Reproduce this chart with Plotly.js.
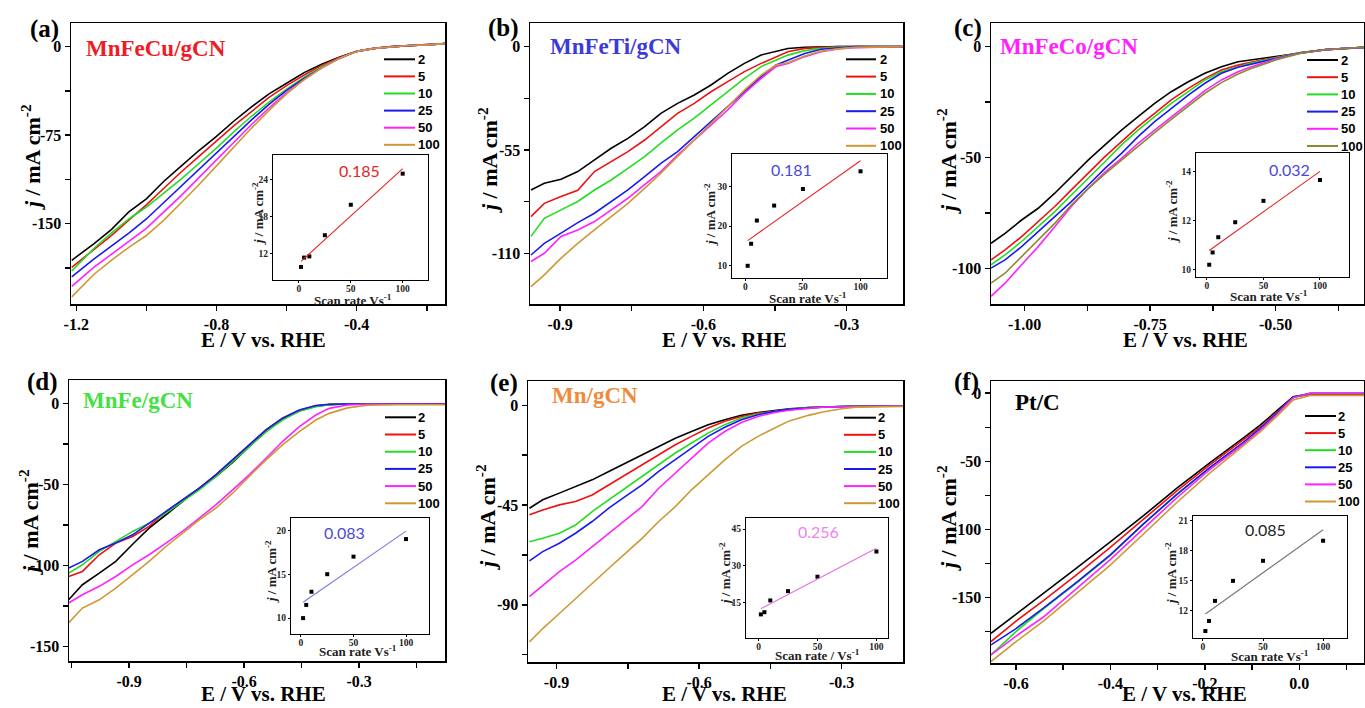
<!DOCTYPE html>
<html><head><meta charset="utf-8">
<script src="https://cdn.plot.ly/plotly-3.0.1.min.js"></script>
<style>html,body{margin:0;padding:0;background:#fff;}#chart{width:1365px;height:708px;}</style>
</head><body><div id="chart"></div>
<script>
// ---------------- DATA ----------------
const scanRates = ['2','5','10','25','50','100'];
const insetRate = [2,5,10,25,50,100];
const fitRate = [2,100];

// (a) MnFeCu/gCN
const E_a = [-1.213,-1.15,-1.1,-1.05,-1.0,-0.95,-0.9,-0.85,-0.8,-0.75,-0.7,-0.65,-0.6,-0.55,-0.5,-0.45,-0.4,-0.35,-0.3,-0.25,-0.2,-0.148];
const ja_2   = [-181,-167,-155,-140,-129,-114,-101,-88,-76,-63,-51,-40,-31,-22,-15,-9,-4,-1.5,0,1,1.5,2.5];
const ja_5   = [-187,-172,-160,-147,-134,-120,-106,-93,-80,-67,-55,-43,-33,-24,-16,-9.5,-4,-1.5,0,1,1.5,2.5];
const ja_10  = [-190,-171,-158,-146,-136,-124,-112,-99,-86,-72,-59,-47,-36,-26,-17,-10,-4,-1.5,0,1,1.5,2.5];
const ja_25  = [-195,-180,-169,-158,-146,-132,-118,-104,-90,-76,-62,-49,-37,-27,-18,-10,-4,-1.5,0,1,1.5,2.5];
const ja_50  = [-203,-187,-176,-165,-154,-140,-126,-111,-96,-81,-66,-52,-39,-28,-18,-10,-4,-1.5,0,1,1.5,2.5];
const ja_100 = [-212,-193,-181,-170,-160,-147,-132,-117,-101,-85,-69,-54,-40,-28,-18,-10,-4,-1.5,0,1,1.5,2.5];
const ins_a = [9.9,11.4,11.6,15.0,19.9,24.9];
const fit_a = [10.8,25.7];

// (b) MnFeTi/gCN
const E_b = [-0.961,-0.933,-0.898,-0.863,-0.828,-0.793,-0.758,-0.723,-0.689,-0.654,-0.619,-0.584,-0.549,-0.514,-0.479,-0.448,-0.423,-0.388,-0.353,-0.318,-0.283,-0.183];
const jb_2   = [-76.3,-72.7,-70.6,-66.5,-60.3,-54.1,-48.8,-42.6,-35.5,-30.2,-25.7,-20.4,-14.2,-8.9,-4.4,-2.7,-1.0,-0.3,0,0,0,0];
const jb_5   = [-90.5,-83.4,-79.8,-76.5,-66.5,-61,-55.9,-49.7,-42.6,-35.5,-30.2,-24,-18.6,-13.3,-8.9,-5.3,-2.7,-0.9,-0.4,0,0,0];
const jb_10  = [-101,-91.4,-86.9,-82.4,-76.3,-71,-64.8,-58.5,-51.4,-44.3,-38.1,-31,-24,-16.9,-10.6,-7.1,-4.5,-2.1,-0.9,-0.4,0,0];
const jb_25  = [-110.9,-104.7,-99.3,-93.7,-88.7,-82.5,-76.3,-69.2,-62.1,-55.9,-47.9,-39.9,-31.9,-24,-16,-9.8,-7.1,-3.6,-1.4,-0.5,0,0];
const jb_50  = [-114.4,-110,-101,-97.6,-93.1,-87.1,-80.7,-73.4,-66.5,-57.7,-49.7,-41.7,-33.7,-24.8,-16.9,-10.6,-8.9,-5.3,-2.7,-1.2,-0.5,0];
const jb_100 = [-127.7,-121.5,-112.6,-104.7,-97.6,-90.5,-83.4,-75.4,-67.4,-58.5,-49.7,-40.8,-31.9,-23.1,-15.1,-9.8,-8.6,-5,-2.3,-1.1,-0.4,0];
const ins_b = [9.9,15.5,21.4,25.2,29.4,33.9];
const fit_b = [16.3,36.6];

// (c) MnFeCo/gCN
const E_c = [-1.067,-1.039,-1.006,-0.973,-0.940,-0.907,-0.873,-0.840,-0.807,-0.774,-0.741,-0.708,-0.674,-0.641,-0.608,-0.575,-0.55,-0.5,-0.45,-0.4,-0.35,-0.324];
const jc_2   = [-88.7,-84.2,-78.2,-72.9,-66.1,-58.6,-51.1,-44.3,-37.6,-31.6,-25.6,-20.3,-15.8,-12,-9,-6.8,-6,-4.5,-2.6,-1.3,-0.6,-0.3];
const jc_5   = [-96.2,-91.7,-85.7,-78.9,-72.1,-64.6,-57.1,-49.6,-42.8,-36.1,-30.1,-24,-18.8,-14.3,-10.5,-8.3,-7,-4.8,-2.6,-1.3,-0.6,-0.3];
const jc_10  = [-98.4,-93.9,-87.9,-81.2,-74.4,-66.9,-59.4,-51.9,-44.3,-37.6,-31.6,-25.6,-20.3,-15,-11.3,-9,-7.5,-5,-2.6,-1.3,-0.6,-0.3];
const jc_25  = [-99.9,-96.2,-90.2,-83.4,-76.7,-69.9,-62.4,-54.9,-48.1,-40.6,-33.8,-27.8,-21.8,-16.5,-12,-9.3,-8,-5.2,-2.7,-1.3,-0.6,-0.3];
const jc_50  = [-112.7,-106.7,-98.4,-90.2,-81.2,-72.1,-63.9,-56.6,-50.4,-43.6,-37.6,-31.6,-25.6,-19.8,-15,-11.3,-9.2,-5.6,-2.8,-1.3,-0.6,-0.3];
const jc_100 = [-106.7,-102.2,-94.7,-87.2,-79.7,-71.4,-63.9,-57.4,-51.1,-44.8,-38.8,-32.8,-26.8,-21,-16.2,-12.3,-10,-6,-2.9,-1.4,-0.6,-0.3];
const ins_c = [10.2,10.7,11.32,11.93,12.8,13.65];
const fit_c = [10.78,14.0];

// (d) MnFe/gCN
const E_d = [-1.058,-1.022,-0.978,-0.935,-0.891,-0.848,-0.804,-0.761,-0.717,-0.674,-0.630,-0.587,-0.543,-0.500,-0.456,-0.413,-0.378,-0.33,-0.28,-0.2,-0.076];
const jd_2   = [-121.3,-112,-104.8,-97.6,-87,-77.1,-68.8,-60.6,-52.4,-45.2,-36.4,-26.7,-17.5,-9.9,-4.7,-1.8,-0.8,-0.4,-0.3,-0.3,-0.3];
const jd_5   = [-106.9,-103.8,-93.5,-86.3,-82.2,-76,-66.8,-59.6,-52.4,-44.2,-34.9,-25.7,-16.4,-9.2,-4.3,-1.6,-0.7,-0.4,-0.3,-0.3,-0.3];
const jd_10  = [-104.8,-99.7,-91.4,-85.3,-79.1,-74,-67.8,-60.6,-53.4,-45.2,-36,-26.7,-17.5,-10.3,-4.7,-2.1,-0.8,-0.4,-0.3,-0.3,-0.3];
const jd_25  = [-101.7,-97.6,-90.4,-86.3,-81.2,-74,-66.8,-59.6,-52.4,-44.2,-34.9,-25.7,-16.4,-9.2,-4.1,-1.4,-0.6,-0.4,-0.3,-0.3,-0.3];
const jd_50  = [-123.3,-118.2,-113,-106.9,-99.7,-93.5,-86.3,-79.1,-70.9,-62.7,-53.4,-44.2,-33.9,-23.6,-14.4,-7.2,-3.1,-1,-0.6,-0.6,-0.6];
const jd_100 = [-135.6,-126.4,-121.3,-114.1,-105.8,-97.6,-88.4,-80.1,-71.9,-64.7,-55.5,-45.2,-34.9,-25.7,-17.5,-10.3,-6.2,-2.8,-1.2,-0.9,-0.9];
const ins_d = [10,11.5,13,15,17,19];
const fit_d = [11.8,19.9];

// (e) Mn/gCN
const E_e = [-0.957,-0.929,-0.894,-0.860,-0.825,-0.790,-0.755,-0.720,-0.685,-0.650,-0.616,-0.581,-0.546,-0.511,-0.476,-0.441,-0.41,-0.37,-0.34,-0.30,-0.27,-0.171];
const je_2   = [-46.4,-42.6,-39.6,-36.6,-33.6,-29.8,-26.1,-22.3,-18.5,-14.8,-11.8,-8.7,-6.5,-4.5,-3.2,-2.3,-1.6,-1.0,-0.7,-0.5,-0.4,-0.3];
const je_5   = [-49.4,-47.2,-44.9,-43.4,-40.4,-35.9,-31.3,-26.8,-22.3,-17.8,-14,-10.2,-7.2,-5,-3.5,-2.6,-1.8,-1.0,-0.7,-0.5,-0.4,-0.3];
const je_10  = [-61.5,-60,-57.7,-54,-47.9,-42.6,-37.4,-32.1,-26.8,-21.5,-17,-12.5,-8.7,-5.7,-3.9,-2.7,-1.8,-1.0,-0.7,-0.5,-0.4,-0.3];
const je_25  = [-70.2,-66,-62.2,-57.7,-52.4,-46.4,-41.1,-35.9,-29.8,-24.6,-19.3,-14,-9.9,-6.5,-4.2,-2.7,-1.8,-1.0,-0.7,-0.5,-0.4,-0.3];
const je_50  = [-86.3,-81.1,-75,-69.8,-63.7,-57.7,-51.7,-45.7,-37.4,-30.6,-23.8,-17,-11.8,-7.7,-5,-3.2,-2.2,-1.3,-0.8,-0.6,-0.5,-0.3];
const je_100 = [-106.7,-100.7,-93.9,-87.1,-80.3,-73.5,-66.8,-60,-52.4,-45.7,-38.1,-31.3,-24.6,-18.5,-14,-10.2,-7,-4.5,-3,-1.5,-0.8,-0.5];
const ins_e = [10.1,11.0,15.8,19.6,25.5,35.8];
const fit_e = [12.4,37.1];

// (f) Pt/C
const E_f = [-0.653,-0.6,-0.542,-0.472,-0.401,-0.330,-0.260,-0.189,-0.119,-0.083,-0.048,-0.013,0.023,0.137];
const jf_2   = [-176.5,-162.5,-147.5,-128.5,-109.5,-90,-70,-51,-33,-23.5,-13,-2.5,-0.7,-0.7];
const jf_5   = [-182.6,-167.5,-152.5,-133.5,-113.5,-92.5,-72,-52.5,-34.5,-25,-14.2,-3,-0.7,-0.7];
const jf_10  = [-192.4,-175.2,-158.5,-139.5,-119.5,-96,-74.5,-54.5,-36.3,-26,-15,-3.2,-0.2,-0.2];
const jf_25  = [-185,-173,-158,-139,-119,-96,-74.5,-54.5,-36.3,-26,-15,-2.7,0,0];
const jf_50  = [-192.4,-178.5,-164.5,-143.5,-122.5,-99.5,-77,-56,-37.5,-27.2,-15.8,-3.2,0,0];
const jf_100 = [-197.3,-182.6,-167.5,-147.5,-126.5,-103.5,-80.5,-58.5,-39,-28.5,-17,-4.9,-1.7,-1.7];
const ins_f = [10.0,11.0,13.0,15.0,17.0,19.0];
const fit_f = [11.7,20.1];

// text / labels
const panelLetters = ['(a)','(b)','(c)','(d)','(e)','(f)'];
const sampleNames = ['MnFeCu/gCN','MnFeTi/gCN','MnFeCo/gCN','MnFe/gCN','Mn/gCN','Pt/C'];
const slopeLabels = ['0.185','0.181','0.032','0.083','0.256','0.085'];
const xTitle = 'E / V vs. RHE';
const yTitle = '<i>j</i> / mA cm<sup>-2</sup>';
const insetXTitles = ['Scan rate Vs<sup>-1</sup>','Scan rate Vs<sup>-1</sup>','Scan rate Vs<sup>-1</sup>','Scan rate Vs<sup>-1</sup>','Scan rate / Vs<sup>-1</sup>','Scan rate Vs<sup>-1</sup>'];
const insetYTitle = '<i>j</i> / mA cm<sup>-2</sup>';

// tick values & labels (major labelled ticks, minor unlabelled ticks)
const xTickVals_a = [-1.2,-0.8,-0.4];   const xTickText_a = ['-1.2','-0.8','-0.4'];   const xMinor_a = [-1.0,-0.6,-0.2];
const yTickVals_a = [-150,-75,0];       const yTickText_a = ['-150','-75','0'];       const yMinor_a = [-187.5,-112.5,-37.5];
const xTickVals_b = [-0.9,-0.6,-0.3];   const xTickText_b = ['-0.9','-0.6','-0.3'];   const xMinor_b = [-0.75,-0.45];
const yTickVals_b = [-110,-55,0];       const yTickText_b = ['-110','-55','0'];       const yMinor_b = [-82.5,-27.5];
const xTickVals_c = [-1.0,-0.75,-0.5];  const xTickText_c = ['-1.00','-0.75','-0.50']; const xMinor_c = [-0.875,-0.625,-0.375];
const yTickVals_c = [-100,-50,0];       const yTickText_c = ['-100','-50','0'];       const yMinor_c = [-75,-25];
const xTickVals_d = [-0.9,-0.6,-0.3];   const xTickText_d = ['-0.9','-0.6','-0.3'];   const xMinor_d = [-1.05,-0.75,-0.45,-0.15];
const yTickVals_d = [-150,-100,-50,0];  const yTickText_d = ['-150','-100','-50','0']; const yMinor_d = [-125,-75,-25];
const xTickVals_e = [-0.9,-0.6,-0.3];   const xTickText_e = ['-0.9','-0.6','-0.3'];   const xMinor_e = [-0.75,-0.45];
const yTickVals_e = [-90,-45,0];        const yTickText_e = ['-90','-45','0'];        const yMinor_e = [-112.5,-67.5,-22.5];
const xTickVals_f = [-0.6,-0.4,-0.2,0]; const xTickText_f = ['-0.6','-0.4','-0.2','0.0']; const xMinor_f = [-0.5,-0.3,-0.1,0.1];
const yTickVals_f = [-150,-100,-50,0];  const yTickText_f = ['-150','-100','-50','0']; const yMinor_f = [-175,-125,-75,-25];
const insetXTicks = [0,50,100];
const insetYTicks_a = [12,18,24];
const insetYTicks_b = [10,20,30];
const insetYTicks_c = [10,12,14];
const insetYTicks_d = [10,15,20];
const insetYTicks_e = [15,30,45];
const insetYTicks_f = [12,15,18,21];

// ---------------- ASSEMBLY ----------------
const panels = [
  {E:E_a, J:[ja_2,ja_5,ja_10,ja_25,ja_50,ja_100], ins:ins_a, fit:fit_a, xtv:xTickVals_a, xtt:xTickText_a, xm:xMinor_a, ytv:yTickVals_a, ytt:yTickText_a, ym:yMinor_a, iyt:insetYTicks_a},
  {E:E_b, J:[jb_2,jb_5,jb_10,jb_25,jb_50,jb_100], ins:ins_b, fit:fit_b, xtv:xTickVals_b, xtt:xTickText_b, xm:xMinor_b, ytv:yTickVals_b, ytt:yTickText_b, ym:yMinor_b, iyt:insetYTicks_b},
  {E:E_c, J:[jc_2,jc_5,jc_10,jc_25,jc_50,jc_100], ins:ins_c, fit:fit_c, xtv:xTickVals_c, xtt:xTickText_c, xm:xMinor_c, ytv:yTickVals_c, ytt:yTickText_c, ym:yMinor_c, iyt:insetYTicks_c},
  {E:E_d, J:[jd_2,jd_5,jd_10,jd_25,jd_50,jd_100], ins:ins_d, fit:fit_d, xtv:xTickVals_d, xtt:xTickText_d, xm:xMinor_d, ytv:yTickVals_d, ytt:yTickText_d, ym:yMinor_d, iyt:insetYTicks_d},
  {E:E_e, J:[je_2,je_5,je_10,je_25,je_50,je_100], ins:ins_e, fit:fit_e, xtv:xTickVals_e, xtt:xTickText_e, xm:xMinor_e, ytv:yTickVals_e, ytt:yTickText_e, ym:yMinor_e, iyt:insetYTicks_e},
  {E:E_f, J:[jf_2,jf_5,jf_10,jf_25,jf_50,jf_100], ins:ins_f, fit:fit_f, xtv:xTickVals_f, xtt:xTickText_f, xm:xMinor_f, ytv:yTickVals_f, ytt:yTickText_f, ym:yMinor_f, iyt:insetYTicks_f}
];

// geometry (pixels) and styles; xt: [x, y, yanchor]
const W = 1365, H = 708;
const px = v => v / W;
const py = v => 1 - v / H;
const geo = [
  {box:[71,445,23,304],   xr:[-1.215,-0.148], yr:[-218,20],     inset:[273,428,155,280],     ixr:[-25,124.4], iyr:[7.8,27.9],
   letter:[44,29], name:[84,48], xt:[263,340,'middle'], yt:[31,157], ixt:[353,300], iyt:[258,214], slope:[359,170.5], leg:[384,415,416,59.3,17.1]},
  {box:[530,903,23,304],  xr:[-0.963,-0.182], yr:[-137,12.6],   inset:[732,887,154,278],     ixr:[-11.6,123], iyr:[6.8,38.3],
   letter:[503,28], name:[548,47], xt:[724,340,'middle'], yt:[488,160], ixt:[808,298], iyt:[710,215], slope:[791,169], leg:[846,876,878,59.3,17.3]},
  {box:[991,1364,23,304], xr:[-1.067,-0.324], yr:[-116.1,10.7], inset:[1196,1349,153,277],   ixr:[-9.7,125.7], iyr:[9.7,14.75],
   letter:[968,28], name:[998,47], xt:[1185,340,'middle'], yt:[947,161], ixt:[1269,296], iyt:[1172,212], slope:[1289,169], leg:[1307,1338,1339,60,17.2]},
  {box:[69,445,380,661],  xr:[-1.057,-0.076], yr:[-159.1,14.4], inset:[291,429,518,634],     ixr:[-9.5,121.9], iyr:[8.19,21.4],
   letter:[42,382], name:[81,400], xt:[263,708,'bottom'], yt:[29,522], ixt:[358,651], iyt:[271,572], slope:[344,532], leg:[385,416,416,417.3,17.2]},
  {box:[528,903,381,662], xr:[-0.96,-0.171],  yr:[-115.8,11],   inset:[746,888,518,638],     ixr:[-10.6,109.8], iyr:[0.45,49.5],
   letter:[504,383], name:[550,395], xt:[724,708,'bottom'], yt:[486,517], ixt:[817,655], iyt:[725,574], slope:[818,531], leg:[844,876,876,417.7,17.1]},
  {box:[991,1364,381,663],xr:[-0.653,0.137],  yr:[-198.3,9],    inset:[1193,1347,516,638],   ixr:[-8.3,119.9], iyr:[9.3,21.47],
   letter:[966,382], name:[1013,402], xt:[1184,708,'bottom'], yt:[947,518], ixt:[1270,656], iyt:[1171,574], slope:[1265,529], leg:[1305,1336,1336,416,17.1]}
];
const lineColors  = ['#000000','#ee1111','#22dd22','#1a1aee','#ff22ff','#cc9933'];
const lineColorsC = ['#000000','#ee1111','#22dd22','#1a1aee','#ff22ff','#8a8a30'];
const nameColors  = ['#ee1c24','#3b3bd9','#ff22ff','#44e044','#f08a3c','#000000'];
const fitColors   = ['#e8241f','#e8241f','#e8241f','#7a7ae0','#e070e0','#777777'];
const slopeColors = ['#e8241f','#4a4ad8','#4a4ad8','#4a4ad8','#ee82ee','#222222'];
const SERIF = 'Liberation Serif, Times New Roman, serif';
const SANS = 'Liberation Sans, Arial, sans-serif';

const traces = [];
const layout = {
  width: W, height: H, margin:{l:0,r:0,t:0,b:0},
  paper_bgcolor:'#ffffff', plot_bgcolor:'#ffffff', showlegend:false,
  annotations:[], shapes:[]
};

panels.forEach((p, k) => {
  const g = geo[k];
  const mi = k + 1, ii = k + 7;
  const mx = mi === 1 ? 'x' : 'x' + mi, my = mi === 1 ? 'y' : 'y' + mi;
  const ix = 'x' + ii, iy = 'y' + ii;
  const cols = k === 2 ? lineColorsC : lineColors;

  p.J.forEach((jArr, s) => {
    traces.push({type:'scatter', mode:'lines', x:p.E, y:jArr, name:scanRates[s],
      xaxis:mx, yaxis:my, line:{color:cols[s], width:1.6}, hoverinfo:'skip'});
  });
  traces.push({type:'scatter', mode:'markers', x:insetRate, y:p.ins, xaxis:ix, yaxis:iy,
    marker:{symbol:'square', size:4, color:'#000'}, hoverinfo:'skip'});
  traces.push({type:'scatter', mode:'lines', x:fitRate, y:p.fit, xaxis:ix, yaxis:iy,
    line:{color:fitColors[k], width:1.1}, hoverinfo:'skip'});

  const mainTickFont = {family:SERIF, size:16, color:'#000', weight:700};
  const minorStyle = vals => ({tickmode:'array', tickvals:vals, ticks:'outside', ticklen:5, tickwidth:1.5, tickcolor:'#000', showgrid:false});
  layout['xaxis' + (mi === 1 ? '' : mi)] = {
    domain:[px(g.box[0]), px(g.box[1])], range:g.xr, anchor:my,
    tickmode:'array', tickvals:p.xtv, ticktext:p.xtt, ticks:'outside', ticklen:5, tickwidth:1.5, tickcolor:'#000',
    minor:minorStyle(p.xm),
    showline:true, linewidth:1.5, linecolor:'#000', mirror:true, showgrid:false, zeroline:false,
    tickfont:mainTickFont
  };
  layout['yaxis' + (mi === 1 ? '' : mi)] = {
    domain:[py(g.box[3]), py(g.box[2])], range:g.yr, anchor:mx,
    tickmode:'array', tickvals:p.ytv, ticktext:p.ytt, ticks:'outside', ticklen:5, tickwidth:1.5, tickcolor:'#000',
    minor:minorStyle(p.ym),
    showline:true, linewidth:1.5, linecolor:'#000', mirror:true, showgrid:false, zeroline:false,
    tickfont:mainTickFont
  };
  const insTickFont = {family:SERIF, size:9.5, color:'#222', weight:700};
  layout['xaxis' + ii] = {
    domain:[px(g.inset[0]), px(g.inset[1])], range:g.ixr, anchor:iy,
    tickmode:'array', tickvals:insetXTicks, ticks:'outside', ticklen:2, tickwidth:1, tickcolor:'#000',
    ticklabelstandoff:-2,
    showline:true, linewidth:1, linecolor:'#000', mirror:true, showgrid:false, zeroline:false,
    tickfont:insTickFont
  };
  layout['yaxis' + ii] = {
    domain:[py(g.inset[3]), py(g.inset[2])], range:g.iyr, anchor:ix,
    tickmode:'array', tickvals:p.iyt, ticks:'outside', ticklen:2, tickwidth:1, tickcolor:'#000',
    showline:true, linewidth:1, linecolor:'#000', mirror:true, showgrid:false, zeroline:false,
    tickfont:insTickFont
  };

  const A = layout.annotations;
  const ann = (x, y, text, font, extra) => A.push(Object.assign({xref:'paper', yref:'paper', x:px(x), y:py(y),
    text:text, showarrow:false, xanchor:'center', yanchor:'middle', font:font}, extra || {}));
  ann(g.letter[0], g.letter[1], panelLetters[k], {family:SERIF, size:25, color:'#000', weight:700});
  ann(g.name[0], g.name[1], sampleNames[k], {family:SERIF, size:23, color:nameColors[k], weight:700}, {xanchor:'left'});
  ann(g.xt[0], g.xt[1], xTitle, {family:SERIF, size:21, color:'#000', weight:700}, {yanchor:g.xt[2]});
  ann(g.yt[0], g.yt[1], yTitle, {family:SERIF, size:22, color:'#000', weight:700}, {textangle:-90});
  ann(g.ixt[0], g.ixt[1], insetXTitles[k], {family:SERIF, size:13, color:'#222', weight:700});
  ann(g.iyt[0], g.iyt[1], insetYTitle, {family:SERIF, size:13, color:'#222', weight:700}, {textangle:-90});
  ann(g.slope[0], g.slope[1], slopeLabels[k], {family:'Lato, Noto Sans, sans-serif', size:16, color:slopeColors[k]});

  const [lx0, lx1, tx, ly0, dy] = g.leg;
  scanRates.forEach((r, s) => {
    const yy = ly0 + s * dy;
    layout.shapes.push({type:'line', xref:'paper', yref:'paper', x0:px(lx0), x1:px(lx1), y0:py(yy), y1:py(yy),
      line:{color:cols[s], width:2}});
    ann(tx, yy, r, {family:SANS, size:13, color:'#000', weight:700}, {xanchor:'left'});
  });
});

Plotly.newPlot('chart', traces, layout, {displayModeBar:false, staticPlot:true});
</script>
</body></html>
